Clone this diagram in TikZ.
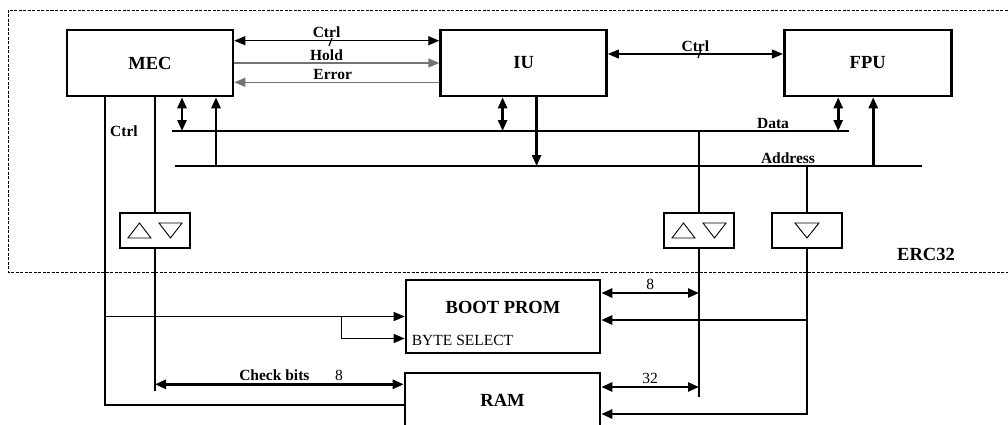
\documentclass[tikz,border=0pt]{standalone}
\usepackage{fontspec}
\setmainfont{Liberation Serif}
\usetikzlibrary{arrows.meta,positioning,calc}

\begin{document}
\begin{tikzpicture}[
  x=1pt, y=-1pt, >={Triangle[length=11pt,width=9pt]},
  bigtext/.style={inner sep=0pt,font=\fontsize{18.5}{20}\selectfont\bfseries},
  block/.style={bigtext,draw,line width=2.6pt},
  buffer/.style={draw,line width=2.6pt,minimum width=70pt,minimum height=35pt,inner sep=0pt},
  bus/.style={line width=2.6pt},
  sig/.style={line width=1.2pt},
  greysig/.style={line width=1.2pt,draw=black!55},
  lbl/.style={font=\fontsize{15.5}{17}\selectfont\bfseries,inner sep=2pt},
  num/.style={font=\fontsize{15.5}{17}\selectfont,inner sep=2pt},
  tri/.style={line width=0.9pt}
]
\useasboundingbox (0,0) rectangle (1008,424);

% --- ERC32 frame ---
\draw[line width=0.9pt,dash pattern=on 3pt off 1.5pt] (1012,10) -- (8,10) -- (8,272) -- (1012,272);
\node[bigtext] (erc) at (926,254) {ERC32};

% --- Blocks ---
\node[block,minimum width=166pt,minimum height=66pt] (mec) at (150,63) {MEC};
\node[block,minimum width=166pt,minimum height=66pt,right=205pt of mec] (iu) {IU};
\node[block,minimum width=167pt,minimum height=66pt,right=175pt of iu] (fpu) {FPU};
\node[block,minimum width=194pt,minimum height=73pt] (prom) at (503,316.5) {};
\node[block,minimum width=195pt,minimum height=54pt] (ram) at (502.5,400) {RAM};
\node[bigtext] (promname) at ($(prom.center)+(0,-9.5)$) {BOOT PROM};
\node[num,anchor=west] (bytesel) at ($(prom.west)+(5,24)$) {BYTE SELECT};

% --- Buffers ---
\node[buffer] (lbuf) at (155,230.5) {};
\node[buffer] (dbuf) at (699,230.5) {};
\node[buffer] (abuf) at (807,230.5) {};
\foreach \b in {lbuf,dbuf}{
  \draw[tri] ($(\b)+(-27,7.5)$) -- ++(23,0) -- ++(-11.5,-15) -- cycle;
  \draw[tri] ($(\b)+(4,-7.5)$) -- ++(23,0) -- ++(-11.5,15) -- cycle;
}
\draw[tri] ($(abuf)+(-12,-7.5)$) -- ++(24,0) -- ++(-12,15) -- cycle;

% --- Buses ---
\coordinate (dataW) at (172,131);
\coordinate (dataE) at (849,131);
\coordinate (addrW) at (175,166);
\coordinate (addrE) at (922,166);
\draw[bus] (dataW) -- (dataE);
\draw[bus] (addrW) -- (addrE);
\node[lbl,above] at ($(dataE)+(-76,0)$) {Data};
\node[lbl,above] at ($(addrE)+(-134,0)$) {Address};

% --- Control signals ---
\draw[sig,<->] ([yshift=-12pt]mec.north east) -- ([yshift=-12pt]iu.north west)
  node[lbl,above,pos=0.45] {Ctrl};
\draw[greysig,->] (mec.east) -- (iu.west) node[lbl,above,pos=0.45] {Hold};
\draw[greysig,<-] ([yshift=15pt]mec.south east) -- ([yshift=15pt]iu.south west)
  node[lbl,above,pos=0.48] {Error};
\draw[sig,<->] ([yshift=9pt]iu.east) -- ([yshift=9pt]fpu.west)
  node[lbl,above,pos=0.5] {Ctrl};
\draw[sig] (329,46) -- (332,38);
\draw[sig] (698,58) -- (701,50);

% --- Bus taps ---
\coordinate (mecD) at ($(mec.south)+(32,0)$);
\coordinate (mecA) at ($(mec.south)+(66,0)$);
\coordinate (iuD) at ($(iu.south)+(-21,0)$);
\coordinate (iuA) at ($(iu.south)+(13,0)$);
\coordinate (fpuD) at ($(fpu.south)+(-29.5,0)$);
\coordinate (fpuA) at ($(fpu.south)+(5.5,0)$);
\draw[bus,<->] (mecD) -- (mecD |- dataW);
\draw[bus,->] (mecA |- addrW) -- (mecA);
\draw[bus,<->] (iuD) -- (iuD |- dataW);
\draw[bus,->] (iuA) -- (iuA |- addrW);
\draw[bus,<->] (fpuD) -- (fpuD |- dataW);
\draw[bus,->] (fpuA |- addrW) -- (fpuA);

% --- MEC to memory ---
\coordinate (mecC) at ($(mec.south)+(-45,0)$);
\coordinate (mecB) at ($(mec.south)+(5,0)$);
\draw[sig] (mecC) |- ([yshift=-5pt]ram.west);
\node[lbl] at ($(mecC)+(19,34)$) {Ctrl};
\draw[sig,->] (mecC |- prom.west) -- (prom.west);
\coordinate (bsel) at ($(prom.west)+(-63,0)$);
\draw[sig,->] (bsel) |- ([yshift=-22pt]prom.west);
\draw[bus] (mecB) -- (lbuf.north);
\draw[bus] (lbuf.south) -- ($(lbuf.south)+(0,142)$);
\coordinate (chk) at ($(lbuf.south)+(0,135)$);
\draw[bus,<->] (chk) -- (chk -| ram.west)
  node[lbl,above,pos=0.48] {Check bits}
  node[num,above,pos=0.74] {8};

% --- Data path to memory ---
\draw[bus] (dbuf.north |- dataW) -- (dbuf.north);
\draw[bus] (dbuf.south) -- ($(dbuf.south)+(0,148)$);
\coordinate (p8) at ([yshift=23.5pt]prom.east);
\coordinate (r32) at ([yshift=13pt]ram.east);
\draw[bus,<->] (p8) -- (p8 -| dbuf.south) node[num,above,midway] {8};
\draw[bus,<->] (r32) -- (r32 -| dbuf.south) node[num,above,midway] {32};

% --- Address path to memory ---
\draw[bus] (abuf.north |- addrW) -- (abuf.north);
\draw[bus,->] (abuf.south) |- ([yshift=-14pt]ram.east);
\coordinate (pA) at ([yshift=-3.5pt]prom.east);
\draw[bus,->] (abuf.south |- pA) -- (pA);

\end{tikzpicture}
\end{document}
